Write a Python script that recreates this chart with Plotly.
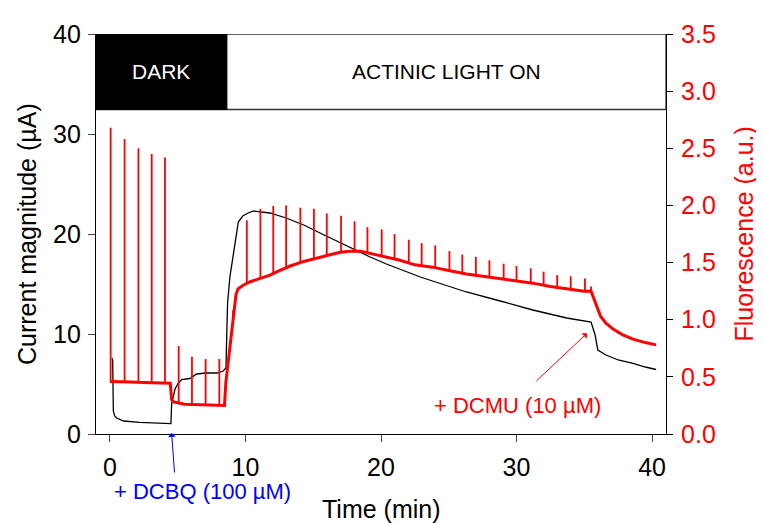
import plotly.graph_objects as go

# ---- data ----
# Current (µA), left axis
cur_t = [0.15, 0.2, 0.25, 0.35, 0.5, 1.0, 2.2, 3.5, 4.5, 4.55, 4.8, 5.05, 5.3, 5.9, 6.4, 7.1, 7.9,
         8.35, 8.56, 8.62, 8.68, 8.85, 9.1, 9.47, 9.8, 10.2, 10.6, 11.2, 11.8, 13.0, 14.3, 15.5,
         16.7, 17.9, 19.2, 20.4, 21.6, 22.9, 23.8, 26.3, 28.8, 31.2, 33.7, 35.5, 35.8, 36.0, 36.6,
         37.5, 38.6, 39.5, 40.3]
cur_v = [7.6, 7.4, 2.3, 1.8, 1.6, 1.3, 1.17, 1.08, 1.04, 3.0, 4.5, 5.1, 5.45, 5.55, 6.0, 6.1, 6.1,
         6.3, 6.6, 10.0, 13.1, 15.7, 17.8, 21.2, 21.8, 22.1, 22.3, 22.2, 22.1, 21.6, 20.9, 20.1,
         19.3, 18.5, 17.7, 17.0, 16.35, 15.7, 15.3, 14.2, 13.3, 12.4, 11.6, 11.2, 9.9, 8.4, 7.9,
         7.4, 7.07, 6.7, 6.45]

# Fluorescence (a.u.), right axis – baseline
fl_t = [0.0, 0.5, 1.5, 2.5, 3.5, 4.45, 4.55, 4.7, 5.5, 6.5, 7.5, 8.45, 8.55, 8.7, 8.85, 9.0, 9.15,
        9.3, 9.45, 9.8, 10.3, 11.0, 11.8, 12.5, 13.3, 14.3, 15.5, 16.3, 17.0, 17.7, 18.5, 19.2,
        19.9, 20.7, 21.4, 22.5, 23.8, 25.0, 26.3, 27.5, 28.8, 30.0, 31.2, 32.5, 33.7, 35.0, 35.5,
        35.8, 36.0, 36.2, 36.6, 37.1, 37.8, 38.6, 39.5, 40.3]
fl_v = [0.46, 0.46, 0.455, 0.45, 0.445, 0.445, 0.30, 0.28, 0.26, 0.255, 0.25, 0.25, 0.45, 0.6,
        0.8, 0.95, 1.05, 1.22, 1.27, 1.30, 1.33, 1.36, 1.39, 1.43, 1.47, 1.51, 1.55, 1.57, 1.59,
        1.60, 1.60, 1.58, 1.56, 1.54, 1.52, 1.48, 1.46, 1.43, 1.40, 1.38, 1.36, 1.34, 1.32, 1.29,
        1.27, 1.25, 1.25, 1.15, 1.08, 1.03, 0.97, 0.92, 0.87, 0.83, 0.80, 0.78]

# Fluorescence saturation-pulse spikes
spike_t = [0.05, 1.08, 2.10, 3.08, 4.06, 5.07, 6.05, 7.06, 8.07, 9.08, 10.1, 11.1, 12.05, 13.0,
           14.05, 15.05, 16.0, 17.05, 18.05, 19.0, 20.05, 21.0, 22.05, 23.0, 24.0, 25.05, 26.0,
           27.0, 28.0, 29.05, 30.0, 31.05, 32.0, 33.0, 34.0, 35.05, 35.5]
spike_top = [2.68, 2.58, 2.50, 2.45, 2.42, 0.77, 0.675, 0.656, 0.656, 1.08, 1.87, 1.97, 1.995, 2.0,
             1.98, 1.97, 1.93, 1.91, 1.86, 1.81, 1.79, 1.75, 1.70, 1.67, 1.65, 1.60, 1.57, 1.55,
             1.52, 1.49, 1.47, 1.45, 1.42, 1.39, 1.38, 1.36, 1.29]
spike_base = [0.46, 0.46, 0.455, 0.45, 0.445, 0.26, 0.255, 0.25, 0.25, 1.0, 1.33, 1.36, 1.41, 1.46,
              1.50, 1.54, 1.56, 1.59, 1.60, 1.58, 1.56, 1.53, 1.49, 1.47, 1.46, 1.43, 1.41, 1.39,
              1.37, 1.35, 1.34, 1.32, 1.30, 1.28, 1.27, 1.26, 1.25]

x_ticks = [0, 10, 20, 30, 40]
y_ticks = [0, 10, 20, 30, 40]
y2_ticks = [0.0, 0.5, 1.0, 1.5, 2.0, 2.5, 3.0, 3.5]

dark_end = 8.63
banner_bottom = 32.45
x_range = [-1.03, 41.03]

FONT = "Arial, Liberation Sans, sans-serif"
RED = "#ff0000"
BLUE = "#0000ff"

# spikes as vertical segments
sx, sy = [], []
for t, b, p in zip(spike_t, spike_base, spike_top):
    sx += [t, t, None]
    sy += [b, p, None]

fig = go.Figure()
fig.add_trace(go.Scatter(x=cur_t, y=cur_v, mode="lines", line=dict(color="black", width=1.3),
                         yaxis="y", showlegend=False))
fig.add_trace(go.Scatter(x=fl_t, y=fl_v, mode="lines", line=dict(color=RED, width=3),
                         yaxis="y2", showlegend=False))
fig.add_trace(go.Scatter(x=sx, y=sy, mode="lines", line=dict(color=RED, width=1.8),
                         yaxis="y2", showlegend=False, connectgaps=False))

fig.update_layout(
    width=756, height=515,
    margin=dict(l=88, r=98, t=17, b=89),
    paper_bgcolor="white", plot_bgcolor="white",
    font=dict(family=FONT, size=25, color="black"),
    xaxis=dict(range=x_range, tickvals=x_ticks, ticks="outside", ticklen=7, tickwidth=1,
               showline=True, linecolor="black", linewidth=1.2, showgrid=False, zeroline=False,
               tickfont=dict(size=25), ticklabelstandoff=4),
    yaxis=dict(range=[0, 40], tickvals=y_ticks, ticks="outside", ticklen=7, tickwidth=1,
               showline=True, linecolor="black", linewidth=1.2, showgrid=False, zeroline=False,
               tickfont=dict(size=25), ticklabelstandoff=2),
    yaxis2=dict(range=[0, 3.5], tickvals=y2_ticks, ticktext=[f"{v:.1f}" for v in y2_ticks],
                overlaying="y", side="right", ticks="outside", ticklen=6, tickwidth=1,
                tickcolor="black", showline=True, linecolor="black", linewidth=1.2,
                showgrid=False, zeroline=False, tickfont=dict(size=25, color=RED),
                ticklabelstandoff=3),
    shapes=[
        dict(type="rect", xref="x", yref="y", x0=x_range[0], x1=x_range[1], y0=banner_bottom, y1=40,
             fillcolor="white", line=dict(color="#333333", width=1.3), layer="above"),
        dict(type="rect", xref="x", yref="y", x0=x_range[0], x1=dark_end, y0=banner_bottom, y1=40,
             fillcolor="black", line=dict(color="black", width=1), layer="above"),
    ],
    annotations=[
        dict(text="DARK", xref="x", yref="y", x=(x_range[0] + dark_end) / 2, y=(banner_bottom + 40) / 2,
             showarrow=False, font=dict(size=21, color="white")),
        dict(text="ACTINIC LIGHT ON", xref="x", yref="y", x=(dark_end + x_range[1]) / 2,
             y=(banner_bottom + 40) / 2, showarrow=False, font=dict(size=21, color="black")),
        dict(text="Time (min)", xref="paper", yref="paper", x=0.5, y=-0.188, yanchor="middle",
             showarrow=False, font=dict(size=25)),
        dict(text="Current magnitude (µA)", xref="paper", yref="paper", x=-0.121, y=0.5,
             xanchor="center", yanchor="middle", textangle=-90, showarrow=False, font=dict(size=25)),
        dict(text="Fluorescence (a.u.)", xref="paper", yref="paper", x=1.136, y=0.5,
             xanchor="center", yanchor="middle", textangle=-90, showarrow=False,
             font=dict(size=25, color=RED)),
        dict(text="+ DCBQ (100 µM)", xref="x", yref="paper", x=6.8, y=-0.144, yanchor="middle",
             showarrow=False, font=dict(size=22, color=BLUE)),
        dict(text="", xref="x", yref="y", x=4.55, y=0.1, ax=3, ay=41, showarrow=True,
             arrowhead=1, arrowsize=1.3, arrowwidth=1, arrowcolor=BLUE),
        dict(text="+ DCMU (10 µM)", xref="x", yref="y", x=30.1, y=2.83, yanchor="middle",
             showarrow=False, font=dict(size=22, color=RED)),
        dict(text="", xref="x", yref="y", x=35.2, y=10.07, ax=-52, ay=49, showarrow=True,
             arrowhead=1, arrowsize=1.3, arrowwidth=1, arrowcolor=RED),
    ],
)

fig.write_html("out.html")
